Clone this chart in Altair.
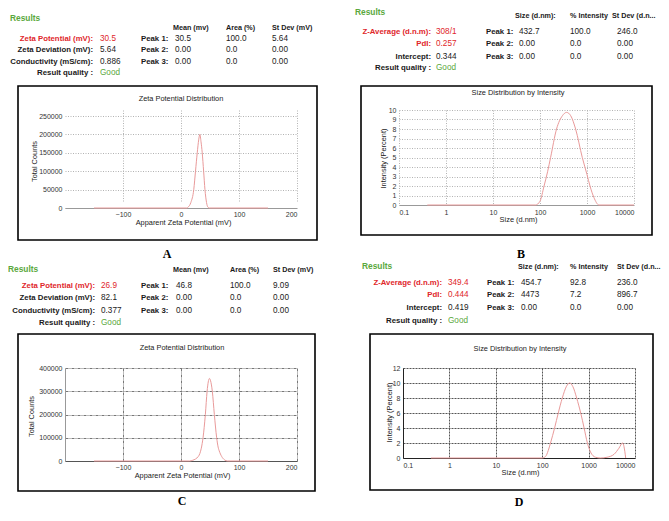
import altair as alt
import pandas as pd

FONT = "Liberation Sans, Arial, sans-serif"
SERIF = "Liberation Serif, Times New Roman, serif"
RED = "#e0262a"
GREEN = "#5aa83c"
INK = "#1a1a1a"
CURVE = "#e99a9a"

# ---------------- data ----------------
# A : zeta potential distribution
a_mv = [-150, 10, 12, 17, 22, 25, 28, 30.5, 32.5, 34.5, 36.6, 39, 41.3, 44, 46.5, 49, 150]
a_counts = [0, 0, 2000, 15000, 50000, 100000, 150000, 185000, 200000, 180000, 150000,
            100000, 50000, 15000, 2000, 0, 0]
# C : zeta potential distribution
c_mv = [-150, 15, 20, 30, 35, 38, 42, 45, 47, 49, 51, 54, 57.5, 61.5, 64, 66, 70, 75, 80, 150]
c_counts = [0, 0, 3000, 20000, 55000, 100000, 200000, 300000, 340000, 355000, 345000,
            300000, 200000, 100000, 60000, 43000, 20000, 5000, 0, 0]
# B : size distribution by intensity
b_size = [0.4, 80, 100, 122, 145, 168, 225, 300, 368, 450, 572, 794, 1000, 1158, 1400, 1800, 10000]
b_int = [0, 0, 0.4, 2, 3.5, 5, 8, 9.4, 9.75, 9.4, 8, 5, 3.2, 2, 0.8, 0, 0]
# D : size distribution by intensity
d_size = [0.4, 100, 118, 135, 151, 185, 222, 271, 330, 390, 460, 553, 676, 800, 942, 1100,
          1410, 1800, 2500, 3540, 4500, 5400, 5800, 6300]
d_int = [0, 0, 0.2, 1, 2, 4, 6, 8, 9.5, 10, 9.5, 8, 6, 4, 2, 0.8, 0.1, 0, 0.1, 0.5, 1.3, 2, 1.5, 0]

# result tables
peak_names = ["Peak 1:", "Peak 2:", "Peak 3:"]
zeta_labels = ["Zeta Potential (mV):", "Zeta Deviation (mV):", "Conductivity (mS/cm):", "Result quality :"]
zeta_headers = ["Mean (mv)", "Area (%)", "St Dev (mV)"]
a_values = ["30.5", "5.64", "0.886", "Good"]
a_peaks = [["30.5", "100.0", "5.64"], ["0.00", "0.0", "0.00"], ["0.00", "0.0", "0.00"]]
c_values = ["26.9", "82.1", "0.377", "Good"]
c_peaks = [["46.8", "100.0", "9.09"], ["0.00", "0.0", "0.00"], ["0.00", "0.0", "0.00"]]
size_labels = ["Z-Average (d.n.m):", "PdI:", "Intercept:", "Result quality :"]
size_headers = ["Size (d.nm):", "% Intensity", "St Dev (d.n..."]
b_values = ["308/1", "0.257", "0.344", "Good"]
b_peaks = [["432.7", "100.0", "246.0"], ["0.00", "0.0", "0.00"], ["0.00", "0.0", "0.00"]]
d_values = ["349.4", "0.444", "0.419", "Good"]
d_peaks = [["454.7", "92.8", "236.0"], ["4473", "7.2", "896.7"], ["0.00", "0.0", "0.00"]]

zeta_ticks_a = [0, 50000, 100000, 150000, 200000, 250000]
zeta_ticks_c = [0, 100000, 200000, 300000, 400000]
mv_ticks = [-100, 0, 100, 200]
size_ticks = [0.1, 1, 10, 100, 1000, 10000]
b_int_ticks = list(range(0, 11))
d_int_ticks = [0, 2, 4, 6, 8, 10, 12]

# ---------------- layout (pixels relative to each plot origin) ----------------
LA = dict(res=(-55, -92), head_y=-82, head_x=[108, 161, 207], rows_y=[-71, -60, -48, -37],
          lab_r=28, val_x=35, peak_x=76, col_x=[110, 161, 207], title=(116, -11),
          letter=(102, 144), box=(-47, 252, -24, 130))
LB = dict(res=(-44, -98), head_y=-94, head_x=[116, 171, 213], rows_y=[-78, -66, -53, -42],
          lab_r=32, val_x=37, peak_x=87, col_x=[120, 171, 218], title=(119, -17),
          letter=(122, 144), box=(-38, 253, -24, 125))
LC = dict(res=(-57, -99), head_y=-98, head_x=[108, 165, 208], rows_y=[-82, -70, -57, -45],
          lab_r=30, val_x=36, peak_x=76, col_x=[111, 165, 208], title=(117, -20),
          letter=(117, 133), box=(-47, 250, -34, 123))
LD = dict(res=(-37, -102), head_y=-101, head_x=[119, 171, 218], rows_y=[-85, -73, -60, -47],
          lab_r=43, val_x=49, peak_x=88, col_x=[122, 171, 218], title=(121, -19),
          letter=(120, 134), box=(-29, 254, -34, 122))

LABEL_SIZE = 7.8
VALUE_SIZE = 8.2
HEAD_SIZE = 7.2


def text_layer(rows, align, weight, size, font=FONT):
    return alt.Chart(pd.DataFrame(rows)).mark_text(
        align=align, baseline="middle", font=font, fontSize=size, fontWeight=weight
    ).encode(
        x=alt.X("px:Q", scale=None, axis=None),
        y=alt.Y("py:Q", scale=None, axis=None),
        text="text:N",
        color=alt.Color("c:N", scale=None),
    )


def decorations(L, labels, values, n_red, headers, peaks, title, letter):
    heads, bold_left, bold_right, reg_left = [], [], [], []
    for hx, h in zip(L["head_x"], headers):
        heads.append(dict(px=hx, py=L["head_y"], text=h, c=INK))
    for i, (lab, val) in enumerate(zip(labels, values)):
        y = L["rows_y"][i]
        col = RED if i < n_red else INK
        bold_right.append(dict(px=L["lab_r"], py=y, text=lab, c=col))
        reg_left.append(dict(px=L["val_x"], py=y, text=val, c=GREEN if val == "Good" else col))
    for i, (name, row) in enumerate(zip(peak_names, peaks)):
        y = L["rows_y"][i]
        bold_left.append(dict(px=L["peak_x"], py=y, text=name, c=INK))
        for cx, v in zip(L["col_x"], row):
            reg_left.append(dict(px=cx, py=y, text=v, c=INK))
    b = L["box"]
    box = alt.Chart(pd.DataFrame({"k": [0]})).mark_rect(
        filled=False, stroke="black", strokeWidth=1.6
    ).encode(x=alt.value(b[0]), x2=alt.value(b[1]), y=alt.value(b[2]), y2=alt.value(b[3]))
    layers = [
        text_layer([dict(px=L["res"][0], py=L["res"][1], text="Results", c=GREEN)], "left", "bold", 8.4),
        text_layer(heads, "left", "bold", HEAD_SIZE),
        text_layer(bold_left, "left", "bold", LABEL_SIZE),
        text_layer(bold_right, "right", "bold", LABEL_SIZE),
        text_layer(reg_left, "left", "normal", VALUE_SIZE),
        text_layer([dict(px=L["title"][0], py=L["title"][1], text=title, c=INK)], "center", "normal", 7.4),
        text_layer([dict(px=L["letter"][0], py=L["letter"][1], text=letter, c="#000")], "center", "bold", 12, SERIF),
    ]
    return box, layers


def axis(title, values, fmt, grid_color, dash, domain, domain_color, lpad, tx, ty, offset=0):
    kw = dict(
        title=title, values=values, format=fmt, grid=True, gridColor=grid_color, gridDash=dash,
        gridWidth=1, domain=domain, domainColor=domain_color, ticks=False, tickSize=0,
        labelPadding=lpad, labelFont=FONT, labelFontSize=7, labelColor="#333",
        titleFont=FONT, titleFontSize=7.4, titleFontWeight="normal", titleColor=INK,
        titleX=tx, titleY=ty, titleBaseline="middle", titleAlign="center",
    )
    if offset:
        kw["offset"] = offset
    return alt.Axis(**kw)


def panel(L, df, xf, yf, xscale, yscale, xaxis, yaxis, w, h, labels, values, n_red,
          headers, peaks, title, letter):
    box, texts = decorations(L, labels, values, n_red, headers, peaks, title, letter)
    line = alt.Chart(df).mark_line(color=CURVE, strokeWidth=1, interpolate="monotone").encode(
        x=alt.X(xf, scale=xscale, axis=xaxis),
        y=alt.Y(yf, scale=yscale, axis=yaxis),
    )
    return alt.layer(box, line, *texts).properties(width=w, height=h)


LIGHT = "#b3b3b3"

pA = panel(
    LA, pd.DataFrame({"mv": a_mv, "counts": a_counts}), "mv:Q", "counts:Q",
    alt.Scale(domain=[-200, 200], nice=False, zero=False),
    alt.Scale(domain=[0, 250000], range=[98, 6], nice=False),
    axis("Apparent Zeta Potential (mV)", mv_ticks, "d", LIGHT, [1, 1.5], True, "#999", 2, 118, 14),
    axis("Total Counts", zeta_ticks_a, "d", LIGHT, [1, 1.5], False, "#999", 3, -31, 51),
    232, 98, zeta_labels, a_values, 1, zeta_headers, a_peaks, "Zeta Potential Distribution", "A",
)
pB = panel(
    LB, pd.DataFrame({"size": b_size, "intensity": b_int}), "size:Q", "intensity:Q",
    alt.Scale(type="log", domain=[0.1, 10000], nice=False),
    alt.Scale(domain=[0, 10], nice=False),
    axis("Size (d.nm)", size_ticks, "~g", LIGHT, [1, 1.5], True, "#999", 3, 119, 14),
    axis("Intensity (Percent)", b_int_ticks, "d", LIGHT, [1, 1.5], False, "#999", 3, -16, 48),
    235, 95, size_labels, b_values, 2, size_headers, b_peaks, "Size Distribution by Intensity", "B",
)
pC = panel(
    LC, pd.DataFrame({"mv": c_mv, "counts": c_counts}), "mv:Q", "counts:Q",
    alt.Scale(domain=[-200, 200], nice=False, zero=False),
    alt.Scale(domain=[0, 400000], nice=False),
    axis("Apparent Zeta Potential (mV)", mv_ticks, "d", "#777", [3, 1, 1, 1], True, "#555", 2.5, 117, 14),
    axis("Total Counts", zeta_ticks_c, "d", "#777", [3, 1, 1, 1], True, "#999", 3, -34, 48),
    232, 93, zeta_labels, c_values, 1, zeta_headers, c_peaks, "Zeta Potential Distribution", "C",
)
pD = panel(
    LD, pd.DataFrame({"size": d_size, "intensity": d_int}), "size:Q", "intensity:Q",
    alt.Scale(type="log", domain=[0.1, 10000], range=[4, 236], nice=False),
    alt.Scale(domain=[0, 12], nice=False),
    axis("Size (d.nm)", size_ticks, "~g", "#555", [2, 1], True, "#222", 3, 121, 14),
    axis("Intensity (Percent)", d_int_ticks, "d", "#555", [2, 1], True, "#222", 3, -14, 44, offset=-4),
    236, 90, size_labels, d_values, 2, size_headers, d_peaks, "Size Distribution by Intensity", "D",
)

chart = alt.concat(
    pA, pB, pC, pD, columns=2, spacing={"row": 160, "column": 102}, bounds="flush"
).properties(padding=0).configure_view(stroke=None)

chart.save("out.html", embed_options={"renderer": "svg", "actions": False})
